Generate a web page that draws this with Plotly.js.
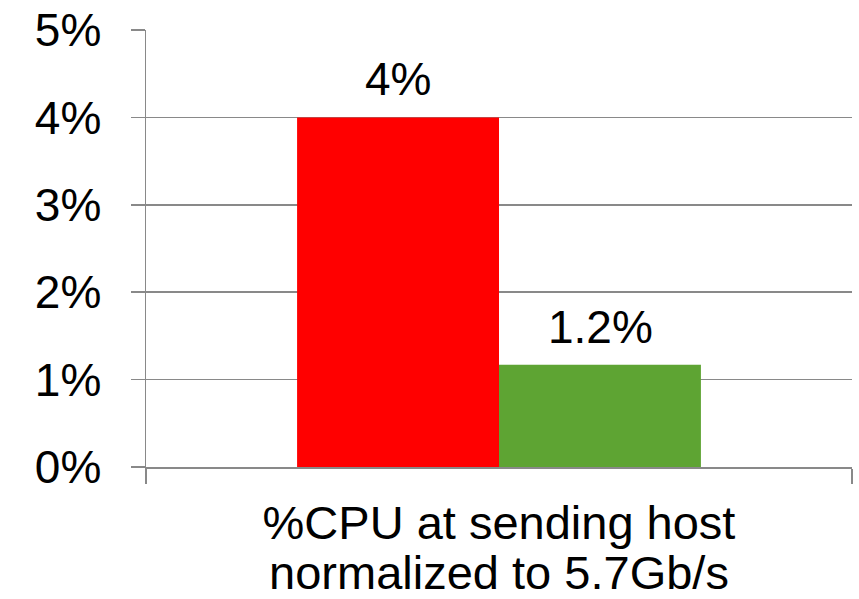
<!DOCTYPE html>
<html>
<head>
<meta charset="utf-8">
<script src="https://cdn.plot.ly/plotly-3.0.1.min.js"></script>
<style>html,body{margin:0;padding:0;background:#fff;}#chart{width:859px;height:599px;}</style>
</head>
<body>
<div id="chart"></div>
<script>
var categories = ["%CPU at sending host"];
var axisTitle = "normalized to 5.7Gb/s";
var seriesA = [4];
var seriesALabels = ["4%"];
var seriesB = [1.17];
var seriesBLabels = ["1.2%"];
var yTickVals = [0, 1, 2, 3, 4, 5];
var yTickText = ["0%", "1%", "2%", "3%", "4%", "5%"];

var FONT = "Liberation Sans, Arial, sans-serif";
var GRID = "#898989";
var HALF_BAR_PX = 101;

var traces = [
  {type: "bar", x: categories, y: seriesA,
   marker: {color: "#FF0000", line: {width: 0}}, hoverinfo: "none"},
  {type: "bar", x: categories, y: seriesB,
   marker: {color: "#5EA433", line: {width: 0}}, hoverinfo: "none"}
];

var annotations = [];
categories.forEach(function (c, i) {
  annotations.push({x: c, y: seriesA[i], xref: "x", yref: "y", text: seriesALabels[i],
    showarrow: false, xshift: -HALF_BAR_PX, yanchor: "bottom", yshift: 10,
    font: {family: FONT, size: 46, color: "#000"}});
  annotations.push({x: c, y: seriesB[i], xref: "x", yref: "y", text: seriesBLabels[i],
    showarrow: false, xshift: HALF_BAR_PX, yanchor: "bottom", yshift: 10,
    font: {family: FONT, size: 46, color: "#000"}});
});

var layout = {
  width: 859, height: 599,
  margin: {l: 146, r: 7, t: 30, b: 132},
  paper_bgcolor: "#fff", plot_bgcolor: "#fff",
  showlegend: false,
  barmode: "group", bargap: 0.428, bargroupgap: 0,
  font: {family: FONT, size: 46, color: "#000"},
  annotations: annotations,
  xaxis: {
    type: "category", showline: true, linecolor: GRID, linewidth: 1.5,
    ticks: "outside", tickson: "boundaries", ticklen: 15, tickcolor: GRID, tickwidth: 1.5,
    showgrid: false, zeroline: false, automargin: false, ticklabelstandoff: 14,
    tickfont: {family: FONT, size: 47, color: "#000"},
    title: {text: axisTitle, font: {family: FONT, size: 47, color: "#000"}, standoff: 0}
  },
  yaxis: {
    range: [0, 5], tickvals: yTickVals, ticktext: yTickText,
    showline: true, linecolor: GRID, linewidth: 1.5,
    ticks: "outside", ticklen: 14, tickcolor: GRID, tickwidth: 1.5, ticklabelstandoff: 20,
    showgrid: true, gridcolor: GRID, gridwidth: 1.5, zeroline: false, automargin: false,
    tickfont: {family: FONT, size: 46, color: "#000"}
  }
};

Plotly.newPlot("chart", traces, layout, {displayModeBar: false, staticPlot: true});
</script>
</body>
</html>
